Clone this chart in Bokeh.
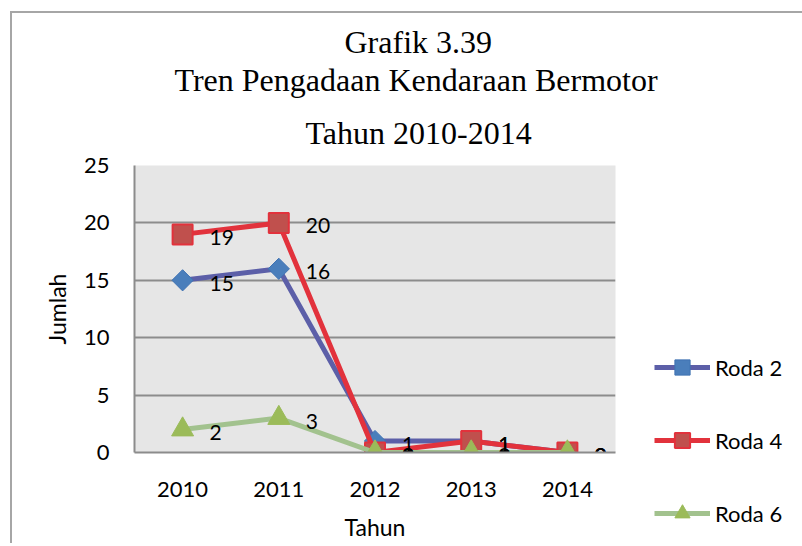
from bokeh.plotting import figure
from bokeh.models import Range1d, FactorRange, Legend, LegendItem, ColumnDataSource, SingleIntervalTicker, Title
from bokeh.core.properties import value
from bokeh.embed import file_html
from bokeh.resources import INLINE

years = ["2010", "2011", "2012", "2013", "2014"]
roda2 = [15, 16, 1, 1, 0]
roda4 = [19, 20, 0, 1, 0]
roda6 = [2, 3, 0, 0, 0]
series_names = ["Roda 2", "Roda 4", "Roda 6"]
title_lines = ["Grafik  3.39", "Tren Pengadaan Kendaraan Bermotor", "Tahun  2010-2014"]

FONT = "Lato"

p = figure(width=782, height=530, frame_width=481, frame_height=287,
           x_range=FactorRange(*years), y_range=Range1d(0, 25),
           output_backend="svg", toolbar_location=None, title=None,
           min_border_left=122, min_border_right=179, min_border_top=152, min_border_bottom=91)
p.margin = (11, 0, 0, 10)
p.styles = {"border-left": "2px solid #a6a6a6", "border-top": "2px solid #a6a6a6"}

# titles: added from the frame outward (line 3 first)
title_offsets = [210, 40, 171]
title_standoffs = [0, 0, 30]
for line, off, so in reversed(list(zip(title_lines, title_offsets, title_standoffs))):
    t = Title(text=line, align="left", offset=off, standoff=so,
              text_font="Liberation Serif", text_font_size="32px", text_font_style="normal",
              text_color="black", text_line_height=0.9)
    p.add_layout(t, "above")

p.background_fill_color = "#e6e6e6"
p.border_fill_color = "white"
p.outline_line_color = None

p.xgrid.grid_line_color = None
p.ygrid.grid_line_color = "#8c8c8c"
p.ygrid.grid_line_width = 2
p.yaxis.ticker = SingleIntervalTicker(interval=5)

for ax in (p.xaxis[0], p.yaxis[0]):
    ax.axis_line_color = "#8c8c8c"
    ax.axis_line_width = 2
    ax.major_tick_line_color = None
    ax.minor_tick_line_color = None
    ax.major_label_text_font = FONT
    ax.major_label_text_font_size = "22px"
    ax.major_label_text_color = "black"
    ax.axis_label_text_font = FONT
    ax.axis_label_text_font_size = "23px"
    ax.axis_label_text_font_style = "normal"
    ax.axis_label_text_color = "black"

p.yaxis.axis_label = "Jumlah"
p.xaxis.axis_label = "Tahun"
p.yaxis.major_label_standoff = 19
p.xaxis.major_label_standoff = 23
p.yaxis.axis_label_standoff = 10
p.xaxis.axis_label_standoff = 13

styles = [
    dict(line="#5c5fa8", marker="square", angle=0.785398, size=15, fill="#4a7ebb", mline="#3f72b3", mw=1),
    dict(line="#e2323c", marker="square", angle=0.0, size=20, fill="#c0504d", mline="#e2323c", mw=2),
    dict(line="#a2c28e", marker="triangle", angle=0.0, size=22, fill="#9bbb59", mline="#9bbb59", mw=1),
]

items = []
for name, vals, st in zip(series_names, [roda2, roda4, roda6], styles):
    src = ColumnDataSource(dict(x=years, y=vals, t=[str(v) for v in vals]))
    lr = p.line("x", "y", source=src, line_color=st["line"], line_width=5, line_join="round")
    mr = p.scatter("x", "y", source=src, marker=st["marker"], angle=st["angle"], size=st["size"],
                   fill_color=st["fill"], line_color=st["mline"], line_width=st["mw"])
    items.append(LegendItem(label=name, renderers=[lr, mr]))

for vals in [roda2, roda4, roda6]:
    src = ColumnDataSource(dict(x=years, y=vals, t=[str(v) for v in vals]))
    p.text("x", "y", text="t", source=src, x_offset=27, y_offset=3, text_baseline="middle",
           text_align="left", text_font=value(FONT), text_font_size="21px", text_color="black")

legend = Legend(items=items, location=(39, -80), orientation="vertical",
                glyph_width=56, glyph_height=38, label_standoff=5, spacing=35,
                padding=0, margin=0, border_line_color=None, background_fill_color=None,
                background_fill_alpha=0,
                label_text_font=FONT, label_text_font_size="22px", label_text_color="black")
p.add_layout(legend, "right")

open("out.html", "w").write(file_html(p, INLINE))
